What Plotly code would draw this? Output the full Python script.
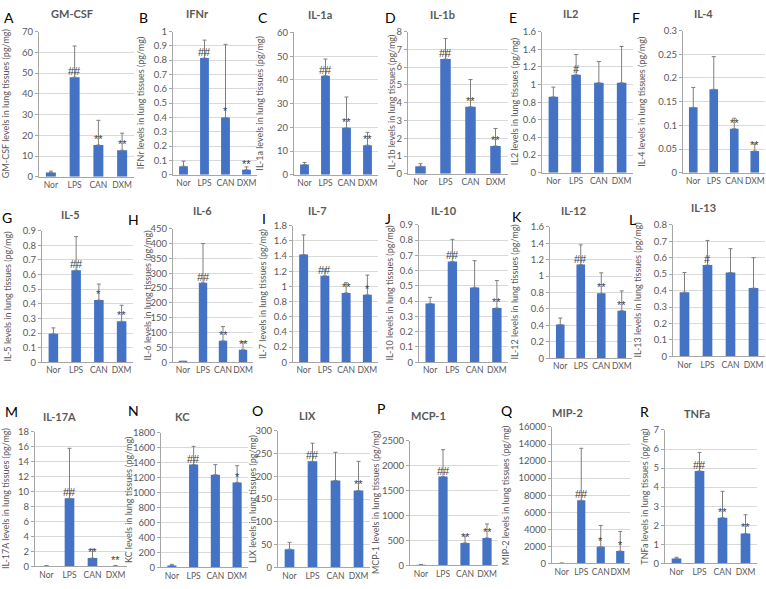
import plotly.graph_objects as go

categories = ["Nor", "LPS", "CAN", "DXM"]

panel_letters = list("ABCDEFGHIJKLMNOPQR")
panel_titles = ["GM-CSF", "IFNr", "IL-1a", "IL-1b", "IL2", "IL-4",
                "IL-5", "IL-6", "IL-7", "IL-10", "IL-12", "IL-13",
                "IL-17A", "KC", "LIX", "MCP-1", "MIP-2", "TNFa"]

# mean values (pg/mg)
gmcsf_mean = [2, 48, 15.3, 12.8]
ifnr_mean = [0.06, 0.815, 0.40, 0.035]
il1a_mean = [4.3, 41.8, 19.8, 12.5]
il1b_mean = [0.43, 6.45, 3.77, 1.57]
il2_mean = [0.86, 1.11, 1.02, 1.02]
il4_mean = [0.138, 0.176, 0.093, 0.046]
il5_mean = [0.195, 0.63, 0.425, 0.28]
il6_mean = [2, 268, 72, 42]
il7_mean = [1.42, 1.14, 0.915, 0.89]
il10_mean = [0.385, 0.66, 0.49, 0.355]
il12_mean = [0.41, 1.14, 0.79, 0.58]
il13_mean = [0.39, 0.555, 0.51, 0.415]
il17a_mean = [0.05, 9.1, 1.1, 0.05]
kc_mean = [25, 1375, 1240, 1135]
lix_mean = [40, 233, 191, 169]
mcp1_mean = [10, 1780, 450, 550]
mip2_mean = [20, 7400, 1950, 1450]
tnfa_mean = [0.25, 4.85, 2.4, 1.57]

# error (upper) values
gmcsf_err = [0.7, 15, 11.9, 8.2]
ifnr_err = [0.035, 0.125, 0.51, 0.02]
il1a_err = [0.9, 7.0, 13.0, 5.4]
il1b_err = [0.14, 1.15, 1.53, 0.98]
il2_err = [0.11, 0.23, 0.24, 0.41]
il4_err = [0.042, 0.069, 0.022, 0.015]
il5_err = [0.04, 0.23, 0.11, 0.11]
il6_err = [1, 132, 48, 26]
il7_err = [0.26, 0.08, 0.135, 0.26]
il10_err = [0.04, 0.145, 0.175, 0.18]
il12_err = [0.08, 0.24, 0.25, 0.24]
il13_err = [0.12, 0.15, 0.145, 0.185]
il17a_err = [0.05, 6.7, 1.2, 0.05]
kc_err = [15, 245, 135, 225]
lix_err = [15, 40, 62, 64]
mcp1_err = [5, 540, 140, 280]
mip2_err = [20, 6100, 2500, 2300]
tnfa_err = [0.07, 0.97, 1.38, 0.98]

# significance marks
gmcsf_sig = ["", "##", "**", "**"]
ifnr_sig = ["", "##", "*", "**"]
il1a_sig = ["", "##", "**", "**"]
il1b_sig = ["", "##", "**", "**"]
il2_sig = ["", "#", "", ""]
il4_sig = ["", "", "**", "**"]
il5_sig = ["", "##", "*", "**"]
il6_sig = ["", "##", "**", "**"]
il7_sig = ["", "##", "**", "*"]
il10_sig = ["", "##", "", "**"]
il12_sig = ["", "##", "**", "**"]
il13_sig = ["", "#", "", ""]
il17a_sig = ["", "##", "**", "**"]
kc_sig = ["", "##", "", "*"]
lix_sig = ["", "##", "", "**"]
mcp1_sig = ["", "##", "**", "**"]
mip2_sig = ["", "##", "*", "*"]
tnfa_sig = ["", "##", "**", "**"]

# axis maxima and tick steps
y_max = [70, 1, 60, 8, 1.6, 0.3, 0.9, 450, 1.8, 0.9, 1.6, 0.8, 18, 1800, 300, 2500, 16000, 7]
y_step = [10, 0.1, 10, 1, 0.2, 0.05, 0.1, 50, 0.2, 0.1, 0.2, 0.1, 2, 200, 50, 500, 2000, 1]

means = [gmcsf_mean, ifnr_mean, il1a_mean, il1b_mean, il2_mean, il4_mean,
         il5_mean, il6_mean, il7_mean, il10_mean, il12_mean, il13_mean,
         il17a_mean, kc_mean, lix_mean, mcp1_mean, mip2_mean, tnfa_mean]
errs = [gmcsf_err, ifnr_err, il1a_err, il1b_err, il2_err, il4_err,
        il5_err, il6_err, il7_err, il10_err, il12_err, il13_err,
        il17a_err, kc_err, lix_err, mcp1_err, mip2_err, tnfa_err]
sigs = [gmcsf_sig, ifnr_sig, il1a_sig, il1b_sig, il2_sig, il4_sig,
        il5_sig, il6_sig, il7_sig, il10_sig, il12_sig, il13_sig,
        il17a_sig, kc_sig, lix_sig, mcp1_sig, mip2_sig, tnfa_sig]

# layout (pixel boxes: x_left, x_right, y_top, y_zero)
W, H = 766, 589
boxes = [
    (39, 134, 26, 174), (173, 257, 26, 172), (294, 378, 27, 172),
    (408, 508, 26, 171), (542, 633, 26, 170), (683, 765, 25, 170),
    (42, 133, 229, 363), (173, 253, 227, 363), (293, 378, 224, 363),
    (419, 508, 223, 363), (550, 632, 225, 359), (673, 765, 223, 357),
    (35, 127, 434, 571), (161, 248, 435, 572), (278, 370, 433, 572),
    (410, 498, 443, 570), (552, 630, 429, 568), (665, 757, 432, 568),
]
title_pos = [(72, 8), (197, 8), (320, 9), (443, 9), (570, 8), (703, 8),
             (70, 212), (202, 208), (317, 208), (444, 208), (573, 208), (703, 205),
             (59, 418), (182, 418), (307, 417), (428, 417), (567, 414), (697, 415)]
letter_pos = [(9, 12), (143, 12), (263, 12), (390, 12), (513, 12), (636, 12),
              (7, 216), (133, 218), (264, 217), (388, 217), (517, 215), (632, 218),
              (11, 413), (133, 412), (257, 412), (381, 410), (507, 412), (644, 413)]
ylab_x = [5, 140, 260, 392, 514, 642, 7, 147, 262, 390, 515, 638, 5, 128, 252, 375, 505, 645]

BAR = "#4472C4"
TXT = "#595959"
GRID = "#D9D9D9"
AXL = "#A6A6A6"
FONT = "Lato, Liberation Sans, Arial"


def px(x):
    return x / W


def py(y):
    return 1 - y / H


def fmt(v):
    return f"{v:g}"


fig = go.Figure()
annotations = []
for i in range(18):
    n = i + 1
    sfx = "" if n == 1 else str(n)
    xa, ya = "x" + sfx, "y" + sfx
    fig.add_trace(go.Bar(
        x=categories, y=means[i], xaxis=xa, yaxis=ya,
        marker=dict(color=BAR, line=dict(width=0)),
        error_y=dict(type="data", array=errs[i], arrayminus=[0] * 4,
                     symmetric=False, color="#7F7F7F", thickness=1, width=2),
        showlegend=False, hoverinfo="skip",
    ))
    x0, x1, yt, yz = boxes[i]
    nt = round(y_max[i] / y_step[i])
    tv = [round(k * y_step[i], 6) for k in range(nt + 1)]
    fig.layout["xaxis" + sfx] = dict(
        domain=[px(x0), px(x1)], anchor=ya, type="category",
        range=[-0.5, 3.5], showline=True, linecolor=AXL, linewidth=1,
        ticks="", showgrid=False, tickangle=0,
        tickfont=dict(size=8.5, color=TXT, family=FONT),
        fixedrange=True,
    )
    fig.layout["yaxis" + sfx] = dict(
        domain=[py(yz), py(yt)], anchor=xa, range=[0, y_max[i]],
        tickmode="array", tickvals=tv, ticktext=[fmt(v) for v in tv],
        showline=True, linecolor=AXL, linewidth=1, ticks="outside",
        ticklen=3, tickcolor=AXL, showgrid=True, gridcolor=GRID,
        gridwidth=1, zeroline=False,
        tickfont=dict(size=9.5, color=TXT, family=FONT),
        fixedrange=True,
    )
    # significance marks
    for c, m, s in zip(categories, means[i], sigs[i]):
        if s:
            annotations.append(dict(
                x=c, y=m, xref=xa, yref=ya, text=s, showarrow=False,
                yanchor="bottom", xanchor="center", yshift=-2,
                font=dict(size=11, color="#404040", family="Liberation Sans, Arial"),
            ))
    # panel titles
    tx, ty = title_pos[i]
    annotations.append(dict(
        x=px(tx), y=py(ty), xref="paper", yref="paper", text="<b>" + panel_titles[i] + "</b>",
        showarrow=False, xanchor="center", yanchor="middle",
        font=dict(size=11, color=TXT, family=FONT),
    ))
    lx, ly = letter_pos[i]
    annotations.append(dict(
        x=px(lx), y=py(ly), xref="paper", yref="paper", text=panel_letters[i],
        showarrow=False, xanchor="center", yanchor="middle",
        font=dict(size=14, color="#000000", family=FONT),
    ))
    annotations.append(dict(
        x=px(ylab_x[i]), y=py((yt + yz) / 2), xref="paper", yref="paper",
        text=panel_titles[i] + " levels in lung tissues (pg/mg)",
        showarrow=False, textangle=-90, xanchor="center", yanchor="middle",
        font=dict(size=9, color=TXT, family=FONT),
    ))

fig.update_layout(
    width=W, height=H, margin=dict(l=0, r=0, t=0, b=0),
    paper_bgcolor="white", plot_bgcolor="white",
    bargap=0.58, annotations=annotations, showlegend=False,
)
fig.write_html("out.html", config={"displayModeBar": False},
               post_script="document.body.style.margin='0px';document.body.style.overflow='hidden';")
